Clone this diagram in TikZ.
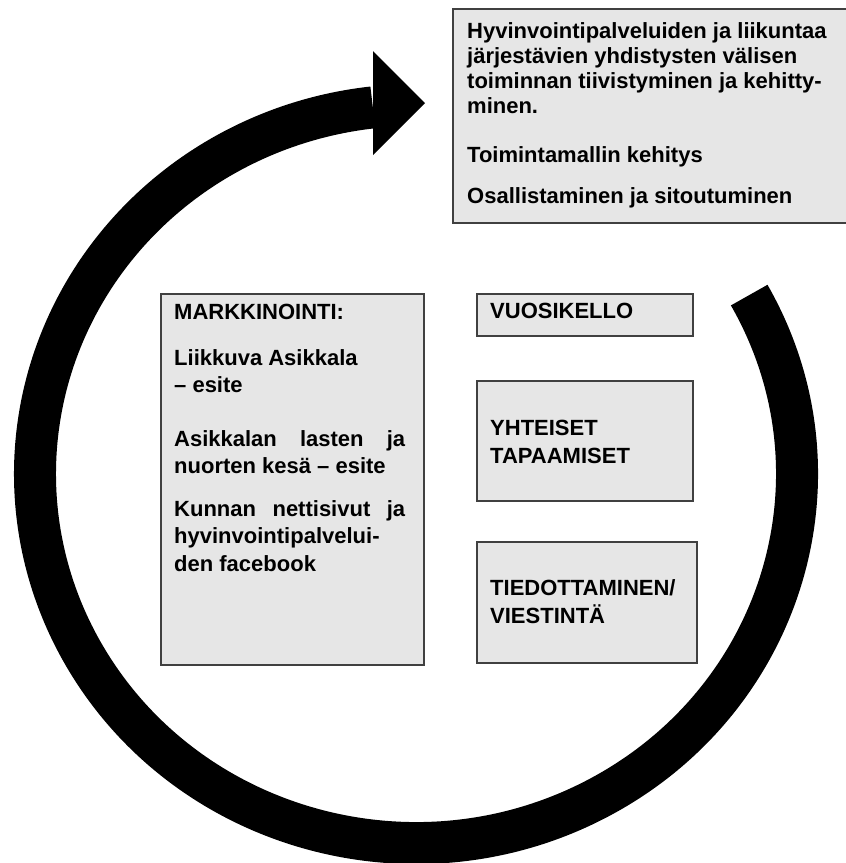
\documentclass[tikz,border=0pt]{standalone}
\usepackage{fontspec}
\setmainfont{Liberation Sans}
\definecolor{boxfill}{HTML}{E6E6E6}
\definecolor{boxline}{HTML}{404040}
\begin{document}
\begin{tikzpicture}[x=1pt,y=-1pt,
  box/.style={draw=boxline, fill=boxfill, line width=1.5pt, anchor=north west, inner sep=0pt},
  txt/.style={anchor=base west, inner sep=0pt, font=\bfseries\fontsize{22}{27}\selectfont}]
\useasboundingbox (0,0) rectangle (846,863);
% ring arrow
\draw[line width=42pt] (749.2,295.1) arc[start angle=-29, end angle=263.5, x radius=381, y radius=369] coordinate (shaftend);
\fill (373,51) coordinate (hbt) -- (425,103) coordinate (htip) -- (373,155) coordinate (hbb) -- cycle;
% boxes
\node[box, minimum width=396pt, minimum height=214pt] (topbox) at (452,8) {};
\node[box, minimum width=263pt, minimum height=371pt] (markbox) at (160,293) {};
\node[box, minimum width=216pt, minimum height=42pt] (vuosibox) at (476,293) {};
\node[box, minimum width=216pt, minimum height=120pt] (yhtbox) at (476,380) {};
\node[box, minimum width=220pt, minimum height=121pt] (tiedbox) at (476,541) {};
% top box text
\node[txt] (t1) at (467,38) {Hyvinvointipalveluiden ja liikuntaa};
\node[txt] (t2) at (467,63) {järjestävien yhdistysten välisen};
\node[txt] (t3) at (467,88) {toiminnan tiivistyminen ja kehitty-};
\node[txt] (t4) at (467,113) {minen.};
\node[txt] (t5) at (467,162) {Toimintamallin kehitys};
\node[txt] (t6) at (467,203) {Osallistaminen ja sitoutuminen};
% left box text
\node[txt] (m1) at (174,319) {MARKKINOINTI:};
\node[txt] (m2) at (174,365) {Liikkuva Asikkala};
\node[txt] (m3) at (174,392) {– esite};
\node[txt] (m4) at (174,446) {\makebox[231pt][s]{Asikkalan\hfill lasten\hfill ja}};
\node[txt] (m5) at (174,473) {nuorten kesä – esite};
\node[txt] (m6) at (174,516) {\makebox[231pt][s]{Kunnan\hfill nettisivut\hfill ja}};
\node[txt] (m7) at (174,543) {hyvinvointipalvelui-};
\node[txt] (m8) at (174,571) {den facebook};
% right boxes text
\node[txt] (v1) at (490,318) {VUOSIKELLO};
\node[txt] (y1) at (490,435) {YHTEISET};
\node[txt] (y2) at (490,463) {TAPAAMISET};
\node[txt] (d1) at (490,595) {TIEDOTTAMINEN/};
\node[txt] (d2) at (490,623) {VIESTINTÄ};
\end{tikzpicture}
\end{document}
